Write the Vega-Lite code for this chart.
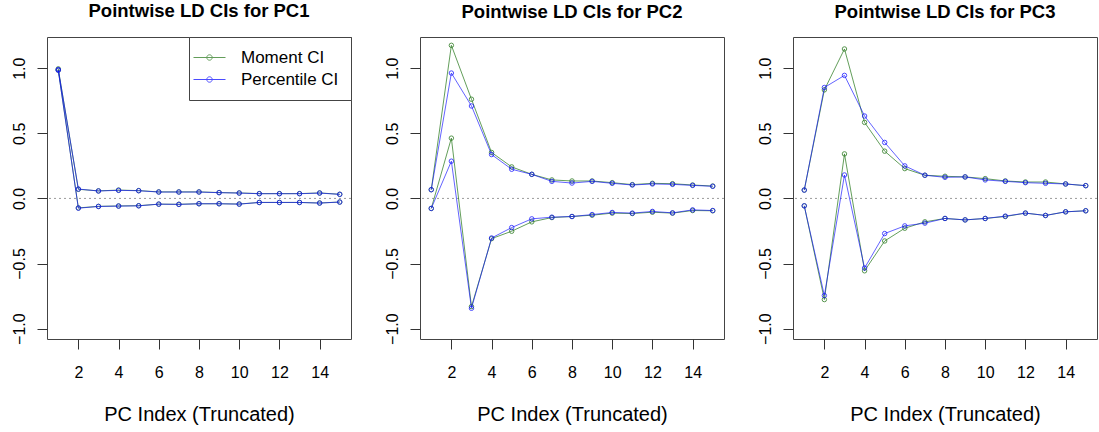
{
  "$schema": "https://vega.github.io/schema/vega-lite/v6.json",
  "background": "white",
  "padding": {"left": 10, "top": 1, "right": 0, "bottom": 0},
  "data": {"values": [
    {"p":1,"m":"Moment CI","b":"U","x":1,"y":0.995},{"p":1,"m":"Moment CI","b":"U","x":2,"y":0.07},{"p":1,"m":"Moment CI","b":"U","x":3,"y":0.058},{"p":1,"m":"Moment CI","b":"U","x":4,"y":0.064},{"p":1,"m":"Moment CI","b":"U","x":5,"y":0.06},{"p":1,"m":"Moment CI","b":"U","x":6,"y":0.05},{"p":1,"m":"Moment CI","b":"U","x":7,"y":0.05},{"p":1,"m":"Moment CI","b":"U","x":8,"y":0.05},{"p":1,"m":"Moment CI","b":"U","x":9,"y":0.045},{"p":1,"m":"Moment CI","b":"U","x":10,"y":0.042},{"p":1,"m":"Moment CI","b":"U","x":11,"y":0.037},{"p":1,"m":"Moment CI","b":"U","x":12,"y":0.037},{"p":1,"m":"Moment CI","b":"U","x":13,"y":0.037},{"p":1,"m":"Moment CI","b":"U","x":14,"y":0.042},{"p":1,"m":"Moment CI","b":"U","x":15,"y":0.032},
    {"p":1,"m":"Moment CI","b":"L","x":1,"y":0.985},{"p":1,"m":"Moment CI","b":"L","x":2,"y":-0.073},{"p":1,"m":"Moment CI","b":"L","x":3,"y":-0.061},{"p":1,"m":"Moment CI","b":"L","x":4,"y":-0.058},{"p":1,"m":"Moment CI","b":"L","x":5,"y":-0.056},{"p":1,"m":"Moment CI","b":"L","x":6,"y":-0.044},{"p":1,"m":"Moment CI","b":"L","x":7,"y":-0.045},{"p":1,"m":"Moment CI","b":"L","x":8,"y":-0.041},{"p":1,"m":"Moment CI","b":"L","x":9,"y":-0.041},{"p":1,"m":"Moment CI","b":"L","x":10,"y":-0.043},{"p":1,"m":"Moment CI","b":"L","x":11,"y":-0.031},{"p":1,"m":"Moment CI","b":"L","x":12,"y":-0.031},{"p":1,"m":"Moment CI","b":"L","x":13,"y":-0.031},{"p":1,"m":"Moment CI","b":"L","x":14,"y":-0.035},{"p":1,"m":"Moment CI","b":"L","x":15,"y":-0.028},
    {"p":1,"m":"Percentile CI","b":"U","x":1,"y":0.99},{"p":1,"m":"Percentile CI","b":"U","x":2,"y":0.072},{"p":1,"m":"Percentile CI","b":"U","x":3,"y":0.057},{"p":1,"m":"Percentile CI","b":"U","x":4,"y":0.062},{"p":1,"m":"Percentile CI","b":"U","x":5,"y":0.059},{"p":1,"m":"Percentile CI","b":"U","x":6,"y":0.049},{"p":1,"m":"Percentile CI","b":"U","x":7,"y":0.049},{"p":1,"m":"Percentile CI","b":"U","x":8,"y":0.049},{"p":1,"m":"Percentile CI","b":"U","x":9,"y":0.044},{"p":1,"m":"Percentile CI","b":"U","x":10,"y":0.041},{"p":1,"m":"Percentile CI","b":"U","x":11,"y":0.036},{"p":1,"m":"Percentile CI","b":"U","x":12,"y":0.036},{"p":1,"m":"Percentile CI","b":"U","x":13,"y":0.036},{"p":1,"m":"Percentile CI","b":"U","x":14,"y":0.041},{"p":1,"m":"Percentile CI","b":"U","x":15,"y":0.031},
    {"p":1,"m":"Percentile CI","b":"L","x":1,"y":0.985},{"p":1,"m":"Percentile CI","b":"L","x":2,"y":-0.075},{"p":1,"m":"Percentile CI","b":"L","x":3,"y":-0.062},{"p":1,"m":"Percentile CI","b":"L","x":4,"y":-0.059},{"p":1,"m":"Percentile CI","b":"L","x":5,"y":-0.057},{"p":1,"m":"Percentile CI","b":"L","x":6,"y":-0.044},{"p":1,"m":"Percentile CI","b":"L","x":7,"y":-0.046},{"p":1,"m":"Percentile CI","b":"L","x":8,"y":-0.041},{"p":1,"m":"Percentile CI","b":"L","x":9,"y":-0.041},{"p":1,"m":"Percentile CI","b":"L","x":10,"y":-0.044},{"p":1,"m":"Percentile CI","b":"L","x":11,"y":-0.031},{"p":1,"m":"Percentile CI","b":"L","x":12,"y":-0.031},{"p":1,"m":"Percentile CI","b":"L","x":13,"y":-0.031},{"p":1,"m":"Percentile CI","b":"L","x":14,"y":-0.036},{"p":1,"m":"Percentile CI","b":"L","x":15,"y":-0.028},

    {"p":2,"m":"Moment CI","b":"U","x":1,"y":0.067},{"p":2,"m":"Moment CI","b":"U","x":2,"y":1.176},{"p":2,"m":"Moment CI","b":"U","x":3,"y":0.762},{"p":2,"m":"Moment CI","b":"U","x":4,"y":0.353},{"p":2,"m":"Moment CI","b":"U","x":5,"y":0.242},{"p":2,"m":"Moment CI","b":"U","x":6,"y":0.185},{"p":2,"m":"Moment CI","b":"U","x":7,"y":0.142},{"p":2,"m":"Moment CI","b":"U","x":8,"y":0.134},{"p":2,"m":"Moment CI","b":"U","x":9,"y":0.134},{"p":2,"m":"Moment CI","b":"U","x":10,"y":0.121},{"p":2,"m":"Moment CI","b":"U","x":11,"y":0.106},{"p":2,"m":"Moment CI","b":"U","x":12,"y":0.116},{"p":2,"m":"Moment CI","b":"U","x":13,"y":0.113},{"p":2,"m":"Moment CI","b":"U","x":14,"y":0.103},{"p":2,"m":"Moment CI","b":"U","x":15,"y":0.095},
    {"p":2,"m":"Moment CI","b":"L","x":1,"y":-0.077},{"p":2,"m":"Moment CI","b":"L","x":2,"y":0.463},{"p":2,"m":"Moment CI","b":"L","x":3,"y":-0.831},{"p":2,"m":"Moment CI","b":"L","x":4,"y":-0.309},{"p":2,"m":"Moment CI","b":"L","x":5,"y":-0.252},{"p":2,"m":"Moment CI","b":"L","x":6,"y":-0.18},{"p":2,"m":"Moment CI","b":"L","x":7,"y":-0.147},{"p":2,"m":"Moment CI","b":"L","x":8,"y":-0.139},{"p":2,"m":"Moment CI","b":"L","x":9,"y":-0.129},{"p":2,"m":"Moment CI","b":"L","x":10,"y":-0.113},{"p":2,"m":"Moment CI","b":"L","x":11,"y":-0.116},{"p":2,"m":"Moment CI","b":"L","x":12,"y":-0.106},{"p":2,"m":"Moment CI","b":"L","x":13,"y":-0.113},{"p":2,"m":"Moment CI","b":"L","x":14,"y":-0.093},{"p":2,"m":"Moment CI","b":"L","x":15,"y":-0.095},
    {"p":2,"m":"Percentile CI","b":"U","x":1,"y":0.067},{"p":2,"m":"Percentile CI","b":"U","x":2,"y":0.963},{"p":2,"m":"Percentile CI","b":"U","x":3,"y":0.71},{"p":2,"m":"Percentile CI","b":"U","x":4,"y":0.337},{"p":2,"m":"Percentile CI","b":"U","x":5,"y":0.224},{"p":2,"m":"Percentile CI","b":"U","x":6,"y":0.185},{"p":2,"m":"Percentile CI","b":"U","x":7,"y":0.131},{"p":2,"m":"Percentile CI","b":"U","x":8,"y":0.118},{"p":2,"m":"Percentile CI","b":"U","x":9,"y":0.131},{"p":2,"m":"Percentile CI","b":"U","x":10,"y":0.116},{"p":2,"m":"Percentile CI","b":"U","x":11,"y":0.103},{"p":2,"m":"Percentile CI","b":"U","x":12,"y":0.111},{"p":2,"m":"Percentile CI","b":"U","x":13,"y":0.108},{"p":2,"m":"Percentile CI","b":"U","x":14,"y":0.1},{"p":2,"m":"Percentile CI","b":"U","x":15,"y":0.093},
    {"p":2,"m":"Percentile CI","b":"L","x":1,"y":-0.077},{"p":2,"m":"Percentile CI","b":"L","x":2,"y":0.286},{"p":2,"m":"Percentile CI","b":"L","x":3,"y":-0.844},{"p":2,"m":"Percentile CI","b":"L","x":4,"y":-0.304},{"p":2,"m":"Percentile CI","b":"L","x":5,"y":-0.224},{"p":2,"m":"Percentile CI","b":"L","x":6,"y":-0.157},{"p":2,"m":"Percentile CI","b":"L","x":7,"y":-0.144},{"p":2,"m":"Percentile CI","b":"L","x":8,"y":-0.139},{"p":2,"m":"Percentile CI","b":"L","x":9,"y":-0.124},{"p":2,"m":"Percentile CI","b":"L","x":10,"y":-0.108},{"p":2,"m":"Percentile CI","b":"L","x":11,"y":-0.113},{"p":2,"m":"Percentile CI","b":"L","x":12,"y":-0.1},{"p":2,"m":"Percentile CI","b":"L","x":13,"y":-0.111},{"p":2,"m":"Percentile CI","b":"L","x":14,"y":-0.088},{"p":2,"m":"Percentile CI","b":"L","x":15,"y":-0.093},

    {"p":3,"m":"Moment CI","b":"U","x":1,"y":0.064},{"p":3,"m":"Moment CI","b":"U","x":2,"y":0.834},{"p":3,"m":"Moment CI","b":"U","x":3,"y":1.148},{"p":3,"m":"Moment CI","b":"U","x":4,"y":0.584},{"p":3,"m":"Moment CI","b":"U","x":5,"y":0.363},{"p":3,"m":"Moment CI","b":"U","x":6,"y":0.229},{"p":3,"m":"Moment CI","b":"U","x":7,"y":0.178},{"p":3,"m":"Moment CI","b":"U","x":8,"y":0.17},{"p":3,"m":"Moment CI","b":"U","x":9,"y":0.165},{"p":3,"m":"Moment CI","b":"U","x":10,"y":0.152},{"p":3,"m":"Moment CI","b":"U","x":11,"y":0.134},{"p":3,"m":"Moment CI","b":"U","x":12,"y":0.126},{"p":3,"m":"Moment CI","b":"U","x":13,"y":0.126},{"p":3,"m":"Moment CI","b":"U","x":14,"y":0.111},{"p":3,"m":"Moment CI","b":"U","x":15,"y":0.098},
    {"p":3,"m":"Moment CI","b":"L","x":1,"y":-0.057},{"p":3,"m":"Moment CI","b":"L","x":2,"y":-0.777},{"p":3,"m":"Moment CI","b":"L","x":3,"y":0.342},{"p":3,"m":"Moment CI","b":"L","x":4,"y":-0.556},{"p":3,"m":"Moment CI","b":"L","x":5,"y":-0.327},{"p":3,"m":"Moment CI","b":"L","x":6,"y":-0.229},{"p":3,"m":"Moment CI","b":"L","x":7,"y":-0.18},{"p":3,"m":"Moment CI","b":"L","x":8,"y":-0.154},{"p":3,"m":"Moment CI","b":"L","x":9,"y":-0.165},{"p":3,"m":"Moment CI","b":"L","x":10,"y":-0.154},{"p":3,"m":"Moment CI","b":"L","x":11,"y":-0.139},{"p":3,"m":"Moment CI","b":"L","x":12,"y":-0.113},{"p":3,"m":"Moment CI","b":"L","x":13,"y":-0.131},{"p":3,"m":"Moment CI","b":"L","x":14,"y":-0.103},{"p":3,"m":"Moment CI","b":"L","x":15,"y":-0.095},
    {"p":3,"m":"Percentile CI","b":"U","x":1,"y":0.064},{"p":3,"m":"Percentile CI","b":"U","x":2,"y":0.852},{"p":3,"m":"Percentile CI","b":"U","x":3,"y":0.945},{"p":3,"m":"Percentile CI","b":"U","x":4,"y":0.633},{"p":3,"m":"Percentile CI","b":"U","x":5,"y":0.43},{"p":3,"m":"Percentile CI","b":"U","x":6,"y":0.25},{"p":3,"m":"Percentile CI","b":"U","x":7,"y":0.178},{"p":3,"m":"Percentile CI","b":"U","x":8,"y":0.162},{"p":3,"m":"Percentile CI","b":"U","x":9,"y":0.165},{"p":3,"m":"Percentile CI","b":"U","x":10,"y":0.142},{"p":3,"m":"Percentile CI","b":"U","x":11,"y":0.131},{"p":3,"m":"Percentile CI","b":"U","x":12,"y":0.121},{"p":3,"m":"Percentile CI","b":"U","x":13,"y":0.116},{"p":3,"m":"Percentile CI","b":"U","x":14,"y":0.111},{"p":3,"m":"Percentile CI","b":"U","x":15,"y":0.098},
    {"p":3,"m":"Percentile CI","b":"L","x":1,"y":-0.057},{"p":3,"m":"Percentile CI","b":"L","x":2,"y":-0.746},{"p":3,"m":"Percentile CI","b":"L","x":3,"y":0.18},{"p":3,"m":"Percentile CI","b":"L","x":4,"y":-0.535},{"p":3,"m":"Percentile CI","b":"L","x":5,"y":-0.27},{"p":3,"m":"Percentile CI","b":"L","x":6,"y":-0.211},{"p":3,"m":"Percentile CI","b":"L","x":7,"y":-0.19},{"p":3,"m":"Percentile CI","b":"L","x":8,"y":-0.154},{"p":3,"m":"Percentile CI","b":"L","x":9,"y":-0.165},{"p":3,"m":"Percentile CI","b":"L","x":10,"y":-0.154},{"p":3,"m":"Percentile CI","b":"L","x":11,"y":-0.136},{"p":3,"m":"Percentile CI","b":"L","x":12,"y":-0.113},{"p":3,"m":"Percentile CI","b":"L","x":13,"y":-0.131},{"p":3,"m":"Percentile CI","b":"L","x":14,"y":-0.103},{"p":3,"m":"Percentile CI","b":"L","x":15,"y":-0.095}
  ]},
  "spacing": 69,
  "bounds": "flush",
  "resolve": {"scale": {"color": "independent", "x": "independent", "y": "independent"}, "legend": {"color": "independent"}},
  "hconcat": [
    {
      "width": 304, "height": 302,
      "title": "Pointwise LD CIs for PC1",
      "layer": [
        {"data": {"values": [{"z": 0}]}, "mark": {"type": "rule", "color": "#9a9a9a", "strokeDash": [2, 3], "strokeWidth": 1},
         "encoding": {"y": {"field": "z", "type": "quantitative", "scale": {"domain": [-1.08, 1.24], "nice": false, "zero": false}, "axis": {"title": null, "values": [-1, -0.5, 0, 0.5, 1], "format": ".1f", "labelAngle": 270, "labelAlign": "center", "labelBaseline": "bottom"}}}},
        {"transform": [{"filter": "datum.p == 1"}],
         "encoding": {
           "x": {"field": "x", "type": "quantitative", "scale": {"domain": [0.44, 15.56], "nice": false, "zero": false}, "axis": {"title": "PC Index (Truncated)", "values": [2, 4, 6, 8, 10, 12, 14]}},
           "y": {"field": "y", "type": "quantitative", "scale": {"domain": [-1.08, 1.24], "nice": false, "zero": false}, "axis": {"title": null, "values": [-1, -0.5, 0, 0.5, 1], "format": ".1f", "labelAngle": 270, "labelAlign": "center", "labelBaseline": "bottom"}},
           "color": {"field": "m", "type": "nominal", "scale": {"domain": ["Moment CI", "Percentile CI"], "range": ["#2f7d24", "#1010ff"]},
             "legend": {"title": null, "orient": "top-right", "offset": 0, "padding": 12, "strokeColor": "#444", "fillColor": "white", "labelFontSize": 17, "labelColor": "#000", "symbolType": "M-3.2,0L3.2,0M0.54,0A0.54,0.54,0,1,1,-0.54,0A0.54,0.54,0,1,1,0.54,0", "symbolSize": 100, "symbolStrokeWidth": 1, "symbolFillColor": "transparent", "symbolOpacity": 0.75, "labelOffset": 23, "rowPadding": 4, "cornerRadius": 0}},
           "detail": {"field": "b"}
         },
         "layer": [
           {"transform": [{"filter": "datum.m == 'Moment CI'"}], "mark": {"type": "line", "strokeWidth": 1, "opacity": 0.75}},
           {"transform": [{"filter": "datum.m == 'Moment CI'"}], "mark": {"type": "point", "filled": false, "size": 20, "strokeWidth": 1, "opacity": 0.8}},
           {"transform": [{"filter": "datum.m == 'Percentile CI'"}], "mark": {"type": "line", "strokeWidth": 1, "opacity": 0.65}},
           {"transform": [{"filter": "datum.m == 'Percentile CI'"}], "mark": {"type": "point", "filled": false, "size": 20, "strokeWidth": 1, "opacity": 0.75}}
         ]}
      ]
    },
    {
      "width": 304, "height": 302,
      "title": "Pointwise LD CIs for PC2",
      "layer": [
        {"data": {"values": [{"z": 0}]}, "mark": {"type": "rule", "color": "#9a9a9a", "strokeDash": [2, 3], "strokeWidth": 1},
         "encoding": {"y": {"field": "z", "type": "quantitative", "scale": {"domain": [-1.08, 1.24], "nice": false, "zero": false}, "axis": {"title": null, "values": [-1, -0.5, 0, 0.5, 1], "format": ".1f", "labelAngle": 270, "labelAlign": "center", "labelBaseline": "bottom"}}}},
        {"transform": [{"filter": "datum.p == 2"}],
         "encoding": {
           "x": {"field": "x", "type": "quantitative", "scale": {"domain": [0.44, 15.56], "nice": false, "zero": false}, "axis": {"title": "PC Index (Truncated)", "values": [2, 4, 6, 8, 10, 12, 14]}},
           "y": {"field": "y", "type": "quantitative", "scale": {"domain": [-1.08, 1.24], "nice": false, "zero": false}, "axis": {"title": null, "values": [-1, -0.5, 0, 0.5, 1], "format": ".1f", "labelAngle": 270, "labelAlign": "center", "labelBaseline": "bottom"}},
           "color": {"field": "m", "type": "nominal", "scale": {"domain": ["Moment CI", "Percentile CI"], "range": ["#2f7d24", "#1010ff"]}, "legend": null},
           "detail": {"field": "b"}
         },
         "layer": [
           {"transform": [{"filter": "datum.m == 'Moment CI'"}], "mark": {"type": "line", "strokeWidth": 1, "opacity": 0.75}},
           {"transform": [{"filter": "datum.m == 'Moment CI'"}], "mark": {"type": "point", "filled": false, "size": 20, "strokeWidth": 1, "opacity": 0.8}},
           {"transform": [{"filter": "datum.m == 'Percentile CI'"}], "mark": {"type": "line", "strokeWidth": 1, "opacity": 0.65}},
           {"transform": [{"filter": "datum.m == 'Percentile CI'"}], "mark": {"type": "point", "filled": false, "size": 20, "strokeWidth": 1, "opacity": 0.75}}
         ]}
      ]
    },
    {
      "width": 304, "height": 302,
      "title": "Pointwise LD CIs for PC3",
      "layer": [
        {"data": {"values": [{"z": 0}]}, "mark": {"type": "rule", "color": "#9a9a9a", "strokeDash": [2, 3], "strokeWidth": 1},
         "encoding": {"y": {"field": "z", "type": "quantitative", "scale": {"domain": [-1.08, 1.24], "nice": false, "zero": false}, "axis": {"title": null, "values": [-1, -0.5, 0, 0.5, 1], "format": ".1f", "labelAngle": 270, "labelAlign": "center", "labelBaseline": "bottom"}}}},
        {"transform": [{"filter": "datum.p == 3"}],
         "encoding": {
           "x": {"field": "x", "type": "quantitative", "scale": {"domain": [0.44, 15.56], "nice": false, "zero": false}, "axis": {"title": "PC Index (Truncated)", "values": [2, 4, 6, 8, 10, 12, 14]}},
           "y": {"field": "y", "type": "quantitative", "scale": {"domain": [-1.08, 1.24], "nice": false, "zero": false}, "axis": {"title": null, "values": [-1, -0.5, 0, 0.5, 1], "format": ".1f", "labelAngle": 270, "labelAlign": "center", "labelBaseline": "bottom"}},
           "color": {"field": "m", "type": "nominal", "scale": {"domain": ["Moment CI", "Percentile CI"], "range": ["#2f7d24", "#1010ff"]}, "legend": null},
           "detail": {"field": "b"}
         },
         "layer": [
           {"transform": [{"filter": "datum.m == 'Moment CI'"}], "mark": {"type": "line", "strokeWidth": 1, "opacity": 0.75}},
           {"transform": [{"filter": "datum.m == 'Moment CI'"}], "mark": {"type": "point", "filled": false, "size": 20, "strokeWidth": 1, "opacity": 0.8}},
           {"transform": [{"filter": "datum.m == 'Percentile CI'"}], "mark": {"type": "line", "strokeWidth": 1, "opacity": 0.65}},
           {"transform": [{"filter": "datum.m == 'Percentile CI'"}], "mark": {"type": "point", "filled": false, "size": 20, "strokeWidth": 1, "opacity": 0.75}}
         ]}
      ]
    }
  ],
  "config": {
    "font": "Liberation Sans",
    "view": {"stroke": "#444", "strokeWidth": 1},
    "axis": {"grid": false, "domain": false, "tickColor": "#333", "tickSize": 10, "labelFontSize": 16, "labelColor": "#000", "titleFontSize": 20, "titleFontWeight": "normal", "titleColor": "#000", "labelFont": "Liberation Sans", "titleFont": "Liberation Sans"},
    "axisX": {"labelPadding": 15, "titlePadding": 24},
    "axisY": {"labelPadding": 10},
    "legend": {"labelFont": "Liberation Sans"},
    "title": {"fontSize": 18.5, "fontWeight": "bold", "color": "#000", "frame": "group", "offset": 16, "anchor": "middle", "font": "Liberation Sans"}
  }
}
